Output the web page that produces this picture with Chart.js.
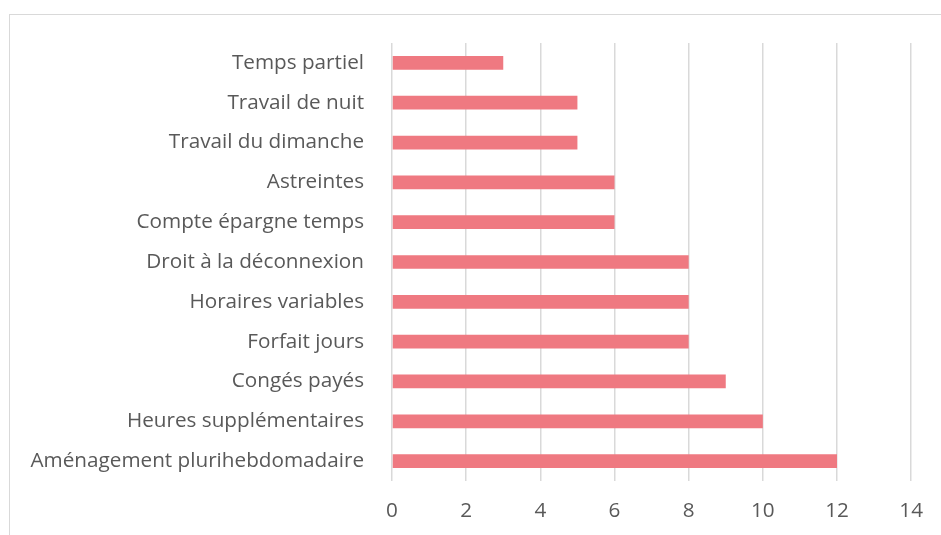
<!DOCTYPE html>
<html>
<head>
<meta charset="utf-8">
<script src="https://cdn.jsdelivr.net/npm/chart.js@4"></script>
<style>
  html, body { margin: 0; padding: 0; background: #fff; overflow: hidden; }
  #cadre { position: absolute; left: 9px; top: 14px; width: 1000px; height: 600px; border: 1.5px solid #d9d9d9; }
  #graphique { position: absolute; left: 0; top: 0; }
</style>
</head>
<body>
<div id="cadre"></div>
<canvas id="graphique" width="941" height="535"></canvas>
<script>
const categories = [
  "Temps partiel",
  "Travail de nuit",
  "Travail du dimanche",
  "Astreintes",
  "Compte épargne temps",
  "Droit à la déconnexion",
  "Horaires variables",
  "Forfait jours",
  "Congés payés",
  "Heures supplémentaires",
  "Aménagement plurihebdomadaire"
];
const valeurs = [3, 5, 5, 6, 6, 8, 8, 8, 9, 10, 12];
const graduations = [0, 2, 4, 6, 8, 10, 12, 14];

// Ressemble à Calibri
const police = { family: "'Open Sans', Lato, sans-serif", size: 20.7 };

const ctx = document.getElementById("graphique").getContext("2d");
new Chart(ctx, {
  type: "bar",
  data: {
    labels: categories,
    datasets: [{
      data: valeurs,
      backgroundColor: "#ef7981",
      borderWidth: 0,
      barPercentage: 0.5,
      categoryPercentage: 0.69
    }]
  },
  options: {
    indexAxis: "y",
    responsive: false,
    animation: false,
    layout: { padding: { top: 43, right: 17, left: 0, bottom: 0 } },
    plugins: { legend: { display: false }, tooltip: { enabled: false } },
    scales: {
      x: {
        min: graduations[0],
        max: graduations[graduations.length - 1],
        afterBuildTicks: (axis) => { axis.ticks = graduations.map(v => ({ value: v })); },
        afterFit: (axis) => { axis.height = 54; },
        grid: { color: "#d9d9d9", lineWidth: 1.5, drawTicks: false },
        border: { display: false },
        ticks: { color: "#595959", font: police, padding: 18 }
      },
      y: {
        afterFit: (axis) => { axis.width = 392; },
        grid: { display: false, drawTicks: false },
        border: { display: false },
        ticks: { color: "#595959", font: police, padding: 28, autoSkip: false }
      }
    }
  }
});
</script>
</body>
</html>
